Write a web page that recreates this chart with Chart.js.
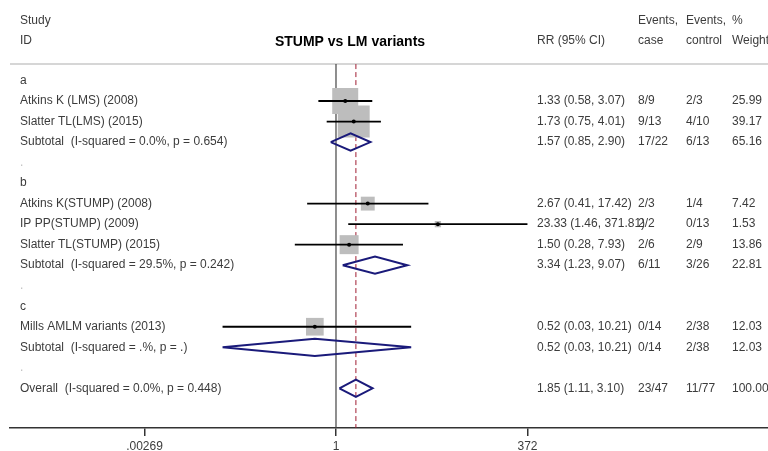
<!DOCTYPE html>
<html>
<head>
<meta charset="utf-8">
<script src="https://cdn.jsdelivr.net/npm/chart.js@4/dist/chart.umd.min.js"></script>
<style>
  html, body { margin: 0; padding: 0; background: #fff; }
  #wrap { width: 768px; height: 451px; position: relative; }
</style>
</head>
<body>
<div id="wrap"><canvas id="forest"></canvas></div>
<script>
// row labels, top to bottom (row index = position)
const rowLabels = [
  'a',
  'Atkins K (LMS) (2008)',
  'Slatter TL(LMS) (2015)',
  'Subtotal  (I-squared = 0.0%, p = 0.654)',
  '.',
  'b',
  'Atkins K(STUMP) (2008)',
  'IP PP(STUMP) (2009)',
  'Slatter TL(STUMP) (2015)',
  'Subtotal  (I-squared = 29.5%, p = 0.242)',
  '.',
  'c',
  'Mills AMLM variants (2013)',
  'Subtotal  (I-squared = .%, p = .)',
  '.',
  'Overall  (I-squared = 0.0%, p = 0.448)'
];
const rrText = ['', '1.33 (0.58, 3.07)', '1.73 (0.75, 4.01)', '1.57 (0.85, 2.90)', '', '',
  '2.67 (0.41, 17.42)', '23.33 (1.46, 371.81)', '1.50 (0.28, 7.93)', '3.34 (1.23, 9.07)', '', '',
  '0.52 (0.03, 10.21)', '0.52 (0.03, 10.21)', '', '1.85 (1.11, 3.10)'];
const caseText = ['', '8/9', '9/13', '17/22', '', '', '2/3', '2/2', '2/6', '6/11', '', '', '0/14', '0/14', '', '23/47'];
const controlText = ['', '2/3', '4/10', '6/13', '', '', '1/4', '0/13', '2/9', '3/26', '', '', '2/38', '2/38', '', '11/77'];
const weightText = ['', '25.99', '39.17', '65.16', '', '', '7.42', '1.53', '13.86', '22.81', '', '', '12.03', '12.03', '', '100.00'];

// individual studies
const studyRows = [1, 2, 6, 7, 8, 12];
const studyRR = [1.33, 1.73, 2.67, 23.33, 1.50, 0.52];
const studyLo = [0.58, 0.75, 0.41, 1.46, 0.28, 0.03];
const studyHi = [3.07, 4.01, 17.42, 371.81, 7.93, 10.21];
const studyWeight = [25.99, 39.17, 7.42, 1.53, 13.86, 12.03];

// pooled estimates (subtotals + overall)
const poolRows = [3, 9, 13, 15];
const poolRR = [1.57, 3.34, 0.52, 1.85];
const poolLo = [0.85, 1.23, 0.03, 1.11];
const poolHi = [2.90, 9.07, 10.21, 3.10];

const tickValues = [0.00269, 1, 372];
const tickLabels = ['.00269', '1', '372'];
const overallRR = 1.85;

const FONT = '"Liberation Sans", Arial, sans-serif';
const TXT = '#3c3c3c';

const datasets = [];

// point estimate dots (on top)
datasets.push({
  data: studyRR.map((v, i) => ({ x: v, y: studyRows[i] })),
  pointStyle: 'circle',
  pointRadius: 2,
  backgroundColor: '#000',
  borderWidth: 0,
  order: 0
});

// confidence interval lines
studyRows.forEach((r, i) => {
  datasets.push({
    data: [{ x: studyLo[i], y: r }, { x: studyHi[i], y: r }],
    showLine: true,
    borderColor: '#000',
    borderWidth: 1.8,
    pointRadius: 0,
    order: 1
  });
});

// diamonds
poolRows.forEach((r, i) => {
  datasets.push({
    data: [
      { x: poolLo[i], y: r },
      { x: poolRR[i], y: r - 0.42 },
      { x: poolHi[i], y: r },
      { x: poolRR[i], y: r + 0.42 },
      { x: poolLo[i], y: r }
    ],
    showLine: true,
    borderColor: '#1a1a7a',
    borderWidth: 2,
    pointRadius: 0,
    fill: false,
    order: 1
  });
});

// weight boxes (underneath)
datasets.push({
  data: studyRR.map((v, i) => ({ x: v, y: studyRows[i] })),
  pointStyle: 'rect',
  pointRadius: (ctx) => 5.1 * Math.sqrt(studyWeight[ctx.dataIndex]) / Math.SQRT2,
  backgroundColor: '#bdbdbd',
  borderWidth: 0,
  order: 2
});

const forestText = {
  id: 'forestText',
  beforeDatasetsDraw(chart) {
    const { ctx, scales: { x, y }, chartArea } = chart;
    const headY = y.getPixelForValue(-0.8);
    ctx.save();
    // header rule
    ctx.strokeStyle = '#c8c8c8';
    ctx.lineWidth = 1.5;
    ctx.beginPath();
    ctx.moveTo(chartArea.left, headY);
    ctx.lineTo(chartArea.right, headY);
    ctx.stroke();
    // null line
    ctx.strokeStyle = '#444';
    ctx.lineWidth = 1.2;
    ctx.beginPath();
    ctx.moveTo(x.getPixelForValue(1), headY);
    ctx.lineTo(x.getPixelForValue(1), chartArea.bottom);
    ctx.stroke();
    // overall estimate line
    ctx.strokeStyle = '#a01c32';
    ctx.lineWidth = 1;
    ctx.setLineDash([5, 3]);
    ctx.beginPath();
    ctx.moveTo(x.getPixelForValue(overallRR), headY);
    ctx.lineTo(x.getPixelForValue(overallRR), chartArea.bottom);
    ctx.stroke();
    ctx.restore();
  },
  afterDraw(chart) {
    const { ctx, scales: { y } } = chart;
    ctx.save();
    ctx.textBaseline = 'middle';
    ctx.textAlign = 'left';
    ctx.font = '12px ' + FONT;
    ctx.fillStyle = TXT;
    // header
    ctx.fillText('Study', 20, 20.5);
    ctx.fillText('ID', 20, 40.5);
    ctx.fillText('RR (95% CI)', 537, 40.5);
    ctx.fillText('Events,', 638, 20.5);
    ctx.fillText('Events,', 686, 20.5);
    ctx.fillText('%', 732, 20.5);
    ctx.fillText('case', 638, 40.5);
    ctx.fillText('control', 686, 40.5);
    ctx.fillText('Weight', 732, 40.5);

    rowLabels.forEach((lab, r) => {
      const py = y.getPixelForValue(r);
      ctx.fillStyle = lab === '.' ? '#c0c0c0' : TXT;
      ctx.fillText(lab, 20, py);
      ctx.fillStyle = TXT;
      ctx.fillText(rrText[r], 537, py);
      ctx.fillText(caseText[r], 638, py);
      ctx.fillText(controlText[r], 686, py);
      ctx.fillText(weightText[r], 732, py);
    });

    ctx.font = 'bold 14px ' + FONT;
    ctx.fillStyle = '#000';
    ctx.textAlign = 'center';
    ctx.fillText('STUMP vs LM variants', 350, 42);
    ctx.restore();
  }
};

new Chart(document.getElementById('forest'), {
  type: 'scatter',
  data: { datasets },
  options: {
    responsive: true,
    maintainAspectRatio: false,
    animation: false,
    layout: { autoPadding: false, padding: { left: 10, right: 0, top: 0, bottom: 0 } },
    plugins: { legend: { display: false }, tooltip: { enabled: false } },
    scales: {
      x: {
        type: 'logarithmic',
        position: 'bottom',
        min: Math.exp(-10.077),
        max: Math.exp(13.354),
        afterBuildTicks: (scale) => { scale.ticks = tickValues.map(v => ({ value: v })); },
        afterFit: (scale) => { scale.height = 23; },
        ticks: {
          autoSkip: false,
          maxRotation: 0,
          padding: 3,
          color: TXT,
          font: { family: FONT, size: 12 },
          callback: (val, i) => tickLabels[i]
        },
        grid: { display: true, drawOnChartArea: false, drawTicks: true, tickLength: 8, color: '#333', lineWidth: 1.5 },
        border: { display: true, color: '#333', width: 1.5 }
      },
      y: {
        type: 'linear',
        display: false,
        reverse: true,
        min: -3.923,
        max: 16.935
      }
    }
  },
  plugins: [forestText]
});
</script>
</body>
</html>
